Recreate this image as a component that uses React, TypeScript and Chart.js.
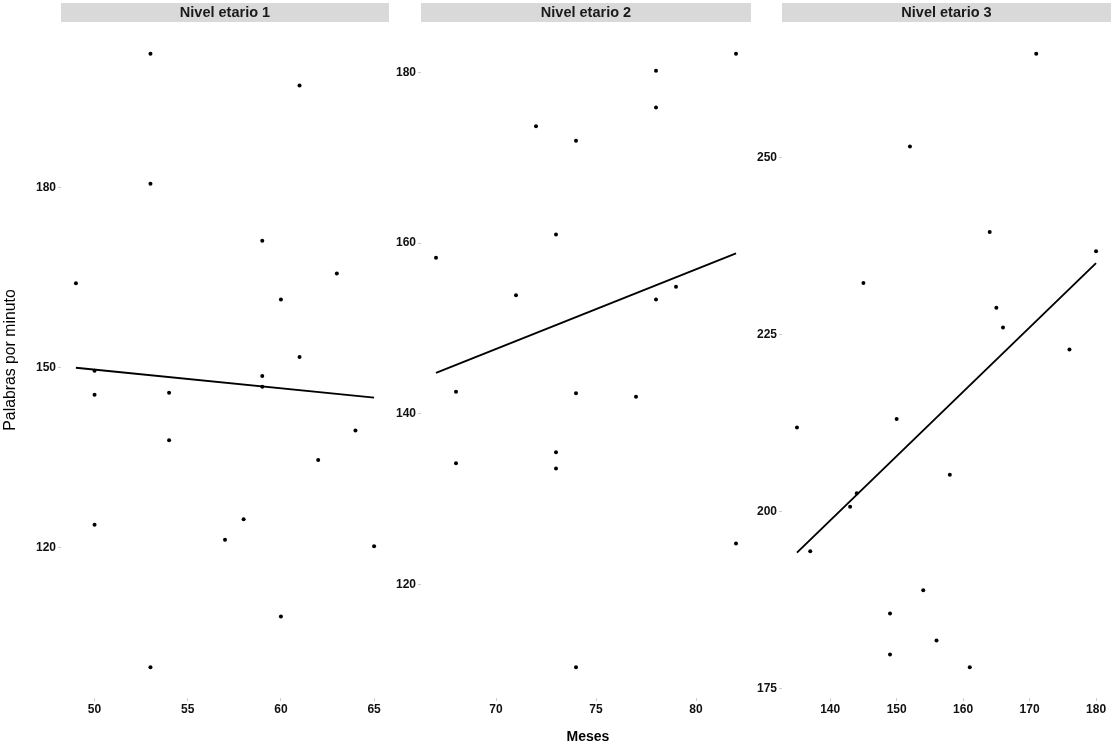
import React, { useEffect, useRef } from "react";
import { Chart, registerables } from "chart.js";
Chart.register(...registerables);

const FONT = '"Liberation Sans", Arial, Helvetica, sans-serif';

const panelTitles = ["Nivel etario 1", "Nivel etario 2", "Nivel etario 3"];
const xAxisTitle = "Meses";
const yAxisTitle = "Palabras por minuto";

// Panel 1
const meses1 = [53, 61, 53, 59, 49, 63, 60, 61, 59, 50, 59, 50, 54, 54, 64, 62, 50, 58, 57, 65, 60, 53];
const ppm1 = [202.4, 197.1, 180.7, 171.2, 164.1, 165.7, 161.4, 151.8, 148.6, 149.5, 146.8, 145.5, 145.8, 137.9, 139.5, 134.6, 123.8, 124.7, 121.3, 120.2, 108.5, 100.0];
const trendX1 = [49, 65];
const trendY1 = [150.0, 145.0];
const xTicks1 = [50, 55, 60, 65];
const yTicks1 = [120, 150, 180];

// Panel 2
const meses2 = [82, 78, 78, 72, 74, 73, 67, 71, 79, 78, 68, 74, 77, 73, 68, 73, 82, 74];
const ppm2 = [182.2, 180.2, 175.9, 173.7, 172.0, 161.0, 158.3, 153.9, 154.9, 153.4, 142.6, 142.4, 142.0, 135.5, 134.2, 133.6, 124.8, 110.3];
const trendX2 = [67, 82];
const trendY2 = [144.8, 158.8];
const xTicks2 = [70, 75, 80];
const yTicks2 = [120, 140, 160, 180];

// Panel 3
const meses3 = [171, 152, 164, 180, 145, 165, 166, 176, 135, 150, 158, 144, 143, 137, 154, 149, 156, 149, 161];
const ppm3 = [264.7, 251.6, 239.5, 236.8, 232.3, 228.8, 226.0, 222.9, 211.9, 213.1, 205.2, 202.6, 200.7, 194.4, 188.9, 185.6, 181.8, 179.8, 178.0];
const trendX3 = [135, 180];
const trendY3 = [194.2, 235.1];
const xTicks3 = [140, 150, 160, 170, 180];
const yTicks3 = [175, 200, 225, 250];

const H = 746;
const TOP = 23;
const XAXIS_H = 48;

function padRange(vals: number[]): [number, number] {
  const lo = Math.min(...vals);
  const hi = Math.max(...vals);
  const e = (hi - lo) * 0.05;
  return [lo - e, hi + e];
}

interface PanelSpec {
  title: string;
  xs: number[];
  ys: number[];
  tx: number[];
  ty: number[];
  xTicks: number[];
  yTicks: number[];
  left: number;
  width: number;
  axisW: number;
  rightPad: number;
  yTitle: boolean;
  xTitle: boolean;
}

const panels: PanelSpec[] = [
  { title: panelTitles[0], xs: meses1, ys: ppm1, tx: trendX1, ty: trendY1, xTicks: xTicks1, yTicks: yTicks1, left: 0, width: 393, axisW: 61, rightPad: 2, yTitle: true, xTitle: false },
  { title: panelTitles[1], xs: meses2, ys: ppm2, tx: trendX2, ty: trendY2, xTicks: xTicks2, yTicks: yTicks2, left: 393, width: 363, axisW: 28, rightPad: 5, yTitle: false, xTitle: true },
  { title: panelTitles[2], xs: meses3, ys: ppm3, tx: trendX3, ty: trendY3, xTicks: xTicks3, yTicks: yTicks3, left: 756, width: 359, axisW: 26, rightPad: 4, yTitle: false, xTitle: false },
];

const stripPlugin = {
  id: "strip",
  afterDraw(chart: any, _args: any, opts: any) {
    const { ctx, chartArea } = chart;
    ctx.save();
    ctx.fillStyle = "#d9d9d9";
    ctx.fillRect(chartArea.left, 3, chartArea.right - chartArea.left, 19);
    ctx.fillStyle = "#1a1a1a";
    ctx.font = `bold 14.5px ${FONT}`;
    ctx.textAlign = "center";
    ctx.textBaseline = "middle";
    ctx.fillText(opts.title, (chartArea.left + chartArea.right) / 2, 13);
    if (opts.yTitle) {
      ctx.save();
      ctx.translate(11, 360);
      ctx.rotate(-Math.PI / 2);
      ctx.font = `15.8px ${FONT}`;
      ctx.fillStyle = "#000";
      ctx.fillText(opts.yTitleText, 0, 0);
      ctx.restore();
    }
    if (opts.xTitle) {
      ctx.font = `bold 14px ${FONT}`;
      ctx.fillStyle = "#000";
      ctx.fillText(opts.xTitleText, 588 - opts.left, 737);
    }
    ctx.restore();
  },
};

function PanelChart({ spec }: { spec: PanelSpec }) {
  const ref = useRef<HTMLCanvasElement | null>(null);
  useEffect(() => {
    if (!ref.current) return;
    const [xmin, xmax] = padRange(spec.xs);
    const [ymin, ymax] = padRange(spec.ys);
    const points = spec.xs.map((x, i) => ({ x, y: spec.ys[i] }));
    const trend = spec.tx.map((x, i) => ({ x, y: spec.ty[i] }));
    const tickFont = { family: FONT, size: 12, weight: "bold" as const };
    const chart = new Chart(ref.current, {
      type: "scatter",
      data: {
        datasets: [
          {
            data: points,
            pointRadius: 2,
            pointBackgroundColor: "#000",
            pointBorderWidth: 0,
            showLine: false,
          } as any,
          {
            data: trend,
            showLine: true,
            borderColor: "#000",
            borderWidth: 1.9,
            pointRadius: 0,
            fill: false,
          } as any,
        ],
      },
      options: {
        animation: false,
        responsive: false,
        maintainAspectRatio: false,
        events: [],
        layout: { padding: { top: TOP, left: 0, right: spec.rightPad, bottom: 0 } },
        plugins: {
          legend: { display: false },
          tooltip: { enabled: false },
          strip: {
            title: spec.title,
            yTitle: spec.yTitle,
            xTitle: spec.xTitle,
            yTitleText: yAxisTitle,
            xTitleText: xAxisTitle,
            left: spec.left,
          },
        } as any,
        scales: {
          x: {
            type: "linear",
            min: xmin,
            max: xmax,
            border: { display: false },
            grid: { drawOnChartArea: false, drawTicks: true, tickLength: 3, color: "#aaa", lineWidth: 0.6 },
            ticks: { font: tickFont, color: "#111", padding: 1, maxRotation: 0, autoSkip: false },
            afterBuildTicks: (s: any) => {
              s.ticks = spec.xTicks.map((v) => ({ value: v }));
            },
            afterFit: (s: any) => {
              s.height = XAXIS_H;
            },
          },
          y: {
            type: "linear",
            min: ymin,
            max: ymax,
            border: { display: false },
            grid: { drawOnChartArea: false, drawTicks: true, tickLength: 3, color: "#aaa", lineWidth: 0.6 },
            ticks: { font: tickFont, color: "#111", padding: 2, autoSkip: false },
            afterBuildTicks: (s: any) => {
              s.ticks = spec.yTicks.map((v) => ({ value: v }));
            },
            afterFit: (s: any) => {
              s.width = spec.axisW;
            },
          },
        },
      },
      plugins: [stripPlugin],
    });
    return () => chart.destroy();
  }, [spec]);
  return (
    <canvas
      ref={ref}
      width={spec.width}
      height={H}
      style={{ position: "absolute", left: spec.left, top: 0, width: spec.width, height: H }}
    />
  );
}

export default function App() {
  return (
    <div style={{ position: "fixed", left: 0, top: 0, width: 1115, height: H, background: "#fff", overflow: "hidden" }}>
      {panels.map((p, i) => (
        <PanelChart key={i} spec={p} />
      ))}
    </div>
  );
}
